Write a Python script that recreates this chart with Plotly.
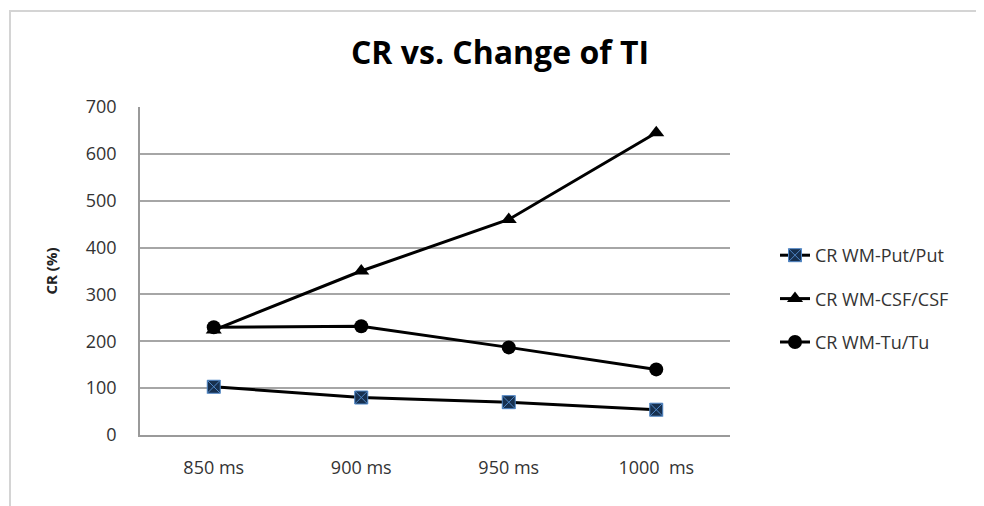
import plotly.graph_objects as go

categories = ["850 ms", "900 ms", "950 ms", "1000  ms"]
put_vals = [103, 80, 70, 54]
csf_vals = [224, 350, 460, 645]
tu_vals = [230, 232, 187, 140]
y_ticks = [0, 100, 200, 300, 400, 500, 600, 700]

FONT = "Open Sans"
W, H = 976, 498
L, R, T, B = 132, 254, 99, 71
PW, PH = W - L - R, H - T - B

fig = go.Figure()
fig.add_trace(go.Scatter(
    x=categories, y=put_vals, mode="lines+markers", name="CR WM-Put/Put",
    legendgroup="a",
    line=dict(color="black", width=3),
    marker=dict(symbol="square-x", size=13, color="#17304f",
                line=dict(color="#4f86c6", width=1)),
))
fig.add_trace(go.Scatter(
    x=categories, y=csf_vals, mode="lines+markers", name="CR WM-CSF/CSF",
    legendgroup="b",
    line=dict(color="black", width=3),
    marker=dict(symbol="triangle-up", size=14, color="black"),
))
fig.add_trace(go.Scatter(
    x=categories, y=tu_vals, mode="lines+markers", name="CR WM-Tu/Tu",
    legendgroup="c",
    line=dict(color="black", width=3),
    marker=dict(symbol="circle", size=14, color="black"),
))

fig.add_shape(type="rect", xref="paper", yref="paper",
              x0=(2 - L) / PW, x1=2.0, y0=-1.0, y1=(T + PH - 3) / PH,
              line=dict(color="#d4d4d4", width=2), layer="below")

fig.update_layout(
    width=W, height=H,
    margin=dict(l=L, r=R, t=T, b=B),
    paper_bgcolor="white", plot_bgcolor="white",
    font=dict(family=FONT, color="#333333", size=18),
    title=dict(text="<b>CR vs. Change of TI</b>", x=492 / W, xanchor="center",
               xref="container", y=1 - 44.5 / H, yanchor="middle",
               font=dict(family=FONT, size=32, color="black")),
    showlegend=True,
    legend=dict(x=(767 - L) / PW, xanchor="left", y=(T + PH - 229) / PH,
                yanchor="top", tracegroupgap=17,
                font=dict(family=FONT, size=18, color="#333333"),
                bgcolor="rgba(0,0,0,0)"),
)
fig.update_xaxes(
    type="category", showgrid=False, showline=True, linecolor="#9a9a9a",
    linewidth=1.5, ticks="outside", ticklen=16, tickcolor="rgba(0,0,0,0)",
    tickfont=dict(family=FONT, size=18, color="#333333"), zeroline=False,
    range=[-0.5, 3.5],
)
fig.update_yaxes(
    range=[0, 700], tickvals=y_ticks, showgrid=True, gridcolor="#a6a6a6",
    gridwidth=1.5, showline=True, linecolor="#9a9a9a", linewidth=1.5,
    zeroline=False, ticks="outside", ticklen=18, tickcolor="rgba(0,0,0,0)",
    tickfont=dict(family=FONT, size=18, color="#333333"),
    title=dict(text="<b>CR (%)</b>", standoff=25,
               font=dict(family=FONT, size=15, color="#222222")),
)

fig.write_html("out.html")
